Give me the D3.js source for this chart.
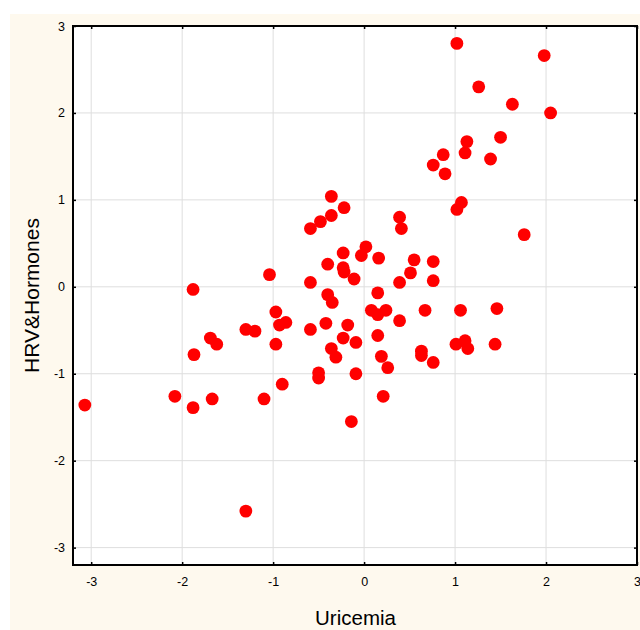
<!DOCTYPE html>
<html>
<head>
<meta charset="utf-8">
<script src="https://cdn.jsdelivr.net/npm/d3@7"></script>
<style>
html,body{margin:0;padding:0;background:#fff;}
svg{display:block;}
text{font-family:"Liberation Sans",Arial,sans-serif;}
</style>
</head>
<body>
<svg id="chart" width="640" height="630"></svg>
<script>
const uricemia = [
 -3.07,-2.08,-1.88,-1.67,-1.88,-1.87,-1.69,-1.62,-1.30,-1.20,-1.04,-0.97,-0.93,-0.86,-0.97,-0.90,-1.10,-1.30,
 -0.36,-0.22,-0.36,-0.48,-0.59,0.39,0.41,-0.23,0.02,-0.03,0.16,-0.40,-0.23,-0.22,-0.11,-0.59,0.55,0.51,0.76,0.76,0.39,0.15,
 -0.40,-0.35,0.08,0.15,0.24,0.39,0.67,-0.59,-0.42,-0.18,-0.23,-0.09,-0.36,-0.31,-0.50,-0.50,-0.09,0.15,0.19,0.26,0.21,-0.14,0.63,0.63,0.76,
 1.02,1.98,1.26,1.63,2.05,1.13,1.11,1.50,0.87,0.76,0.89,1.39,1.07,1.02,1.76,1.06,1.46,1.01,1.11,1.14,1.44
];
const hrvHormones = [
 -1.36,-1.26,-1.39,-1.29,-0.03,-0.78,-0.59,-0.66,-0.49,-0.51,0.14,-0.29,-0.44,-0.41,-0.66,-1.12,-1.29,-2.58,
 1.04,0.91,0.82,0.75,0.67,0.80,0.67,0.39,0.46,0.36,0.33,0.26,0.22,0.17,0.09,0.05,0.31,0.16,0.29,0.07,0.05,-0.07,
 -0.09,-0.18,-0.27,-0.32,-0.27,-0.39,-0.27,-0.49,-0.42,-0.44,-0.59,-0.64,-0.71,-0.81,-0.99,-1.05,-1.00,-0.56,-0.80,-0.93,-1.26,-1.55,-0.74,-0.79,-0.87,
 2.80,2.66,2.30,2.10,2.00,1.67,1.54,1.72,1.52,1.40,1.30,1.47,0.97,0.89,0.60,-0.27,-0.25,-0.66,-0.62,-0.71,-0.66
];
const xTicks = [-3,-2,-1,0,1,2,3];
const yTicks = [-3,-2,-1,0,1,2,3];
const xTitle = "Uricemia";
const yTitle = "HRV&Hormones";

const svg = d3.select("#chart");
const L = 73, R = 637, T = 26, B = 565;

// cream background panel
svg.append("rect").attr("x",10).attr("y",14).attr("width",630).attr("height",616).attr("fill","#fef9ee");
svg.append("rect").attr("x",L).attr("y",T).attr("width",R-L).attr("height",B-T).attr("fill","#fff");

const x = d3.scaleLinear().domain([-3.2,3]).range([L,R]);
const y = d3.scaleLinear().domain([-3.2,3]).range([B,T]);

// grid
const g = svg.append("g");
g.selectAll("line.vx").data(xTicks).join("line")
 .attr("x1",d=>x(d)).attr("x2",d=>x(d)).attr("y1",T).attr("y2",B)
 .attr("stroke","#dedede").attr("stroke-width",1);
g.selectAll("line.hy").data(yTicks).join("line")
 .attr("x1",L).attr("x2",R).attr("y1",d=>y(d)).attr("y2",d=>y(d))
 .attr("stroke","#dedede").attr("stroke-width",1);

// points
const pts = uricemia.map((u,i)=>({u, h: hrvHormones[i]}));
svg.append("g").selectAll("circle").data(pts).join("circle")
 .attr("cx",d=>x(d.u)).attr("cy",d=>y(d.h)).attr("r",6.4).attr("fill","#ff0000");

// axes
const axFmt = d => String(d); // plain hyphen minus like the reference
const axB = svg.append("g").attr("transform",`translate(0,${B})`)
 .call(d3.axisBottom(x).tickValues(xTicks).tickSize(-3).tickPadding(12).tickFormat(axFmt));
const axL = svg.append("g").attr("transform",`translate(${L},0)`)
 .call(d3.axisLeft(y).tickValues(yTicks).tickSize(-3).tickPadding(8).tickFormat(axFmt));
const axT = svg.append("g").attr("transform",`translate(0,${T})`)
 .call(d3.axisTop(x).tickValues(xTicks).tickSize(-3).tickFormat(""));
const axR = svg.append("g").attr("transform",`translate(${R},0)`)
 .call(d3.axisRight(y).tickValues(yTicks).tickSize(-3).tickFormat(""));
[axB,axL,axT,axR].forEach(a=>{
  a.select(".domain").remove();
  a.selectAll(".tick line").attr("stroke","#000").attr("stroke-width",1.5);
  a.selectAll("text").attr("fill","#000").style("font-size","12.5px");
});

// frame
svg.append("rect").attr("x",L).attr("y",T).attr("width",R-L).attr("height",B-T)
 .attr("fill","none").attr("stroke","#000").attr("stroke-width",2);

// titles
svg.append("text").attr("x",355.5).attr("y",625).attr("text-anchor","middle")
 .style("font-size","20.5px").attr("fill","#000").text(xTitle);
svg.append("text").attr("transform","translate(38.5,295.5) rotate(-90)").attr("text-anchor","middle")
 .style("font-size","21px").attr("fill","#000").text(yTitle);
</script>
</body>
</html>
